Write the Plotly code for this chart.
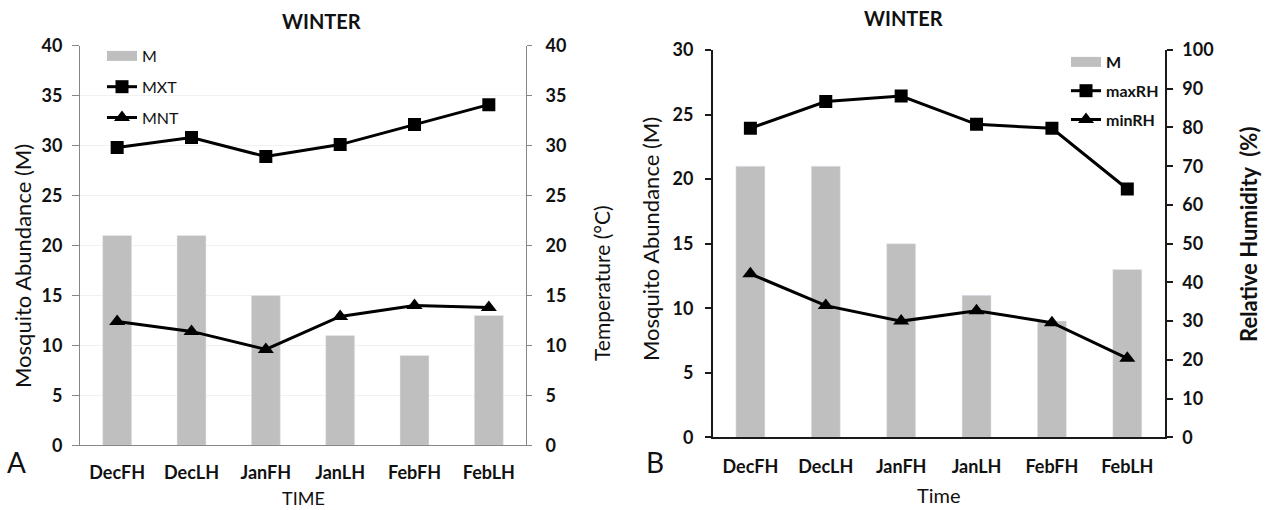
import plotly.graph_objects as go

# ---- data ----
categories = ["DecFH", "DecLH", "JanFH", "JanLH", "FebFH", "FebLH"]
mosquito_a = [21, 21, 15, 11, 9, 13]
max_temp = [29.8, 30.8, 28.9, 30.1, 32.1, 34.1]
min_temp = [12.4, 11.4, 9.6, 12.9, 14.0, 13.8]
mosquito_b = [21, 21, 15, 11, 9, 13]
max_rh = [79.8, 86.7, 88.1, 80.8, 79.8, 64.1]
min_rh = [42.2, 34.0, 30.0, 32.7, 29.6, 20.4]

W, H = 1268, 510
FONT = "Lato"
BAR = "#bfbfbf"


def px(x):
    return x / W


def py(y):
    return 1 - y / H


fig = go.Figure()

# ---------- panel A ----------
fig.add_trace(go.Bar(x=categories, y=mosquito_a, marker_color=BAR, width=0.39,
                     showlegend=False, xaxis="x", yaxis="y"))
fig.add_trace(go.Scatter(x=[None], y=[None], mode="lines", name="M",
                         line=dict(color=BAR, width=10), legend="legend",
                         legendgroup="a1", xaxis="x", yaxis="y"))
fig.add_trace(go.Scatter(x=categories, y=max_temp, mode="lines+markers", name="MXT",
                         line=dict(color="black", width=3),
                         marker=dict(symbol="square", size=13, color="black"),
                         legend="legend", legendgroup="a2", xaxis="x", yaxis="y2"))
fig.add_trace(go.Scatter(x=categories, y=min_temp, mode="lines+markers", name="MNT",
                         line=dict(color="black", width=3),
                         marker=dict(symbol="triangle-up", size=14, color="black"),
                         legend="legend", legendgroup="a3", xaxis="x", yaxis="y2"))

# ---------- panel B ----------
fig.add_trace(go.Bar(x=categories, y=mosquito_b, marker_color=BAR, width=0.385,
                     showlegend=False, xaxis="x2", yaxis="y3"))
fig.add_trace(go.Scatter(x=[None], y=[None], mode="lines", name="M",
                         line=dict(color=BAR, width=10), legend="legend2",
                         legendgroup="b1", xaxis="x2", yaxis="y3"))
fig.add_trace(go.Scatter(x=categories, y=max_rh, mode="lines+markers", name="maxRH",
                         line=dict(color="black", width=3),
                         marker=dict(symbol="square", size=13, color="black"),
                         legend="legend2", legendgroup="b2", xaxis="x2", yaxis="y4"))
fig.add_trace(go.Scatter(x=categories, y=min_rh, mode="lines+markers", name="minRH",
                         line=dict(color="black", width=3),
                         marker=dict(symbol="triangle-up", size=14, color="black"),
                         legend="legend2", legendgroup="b3", xaxis="x2", yaxis="y4"))

tickfont = dict(family=FONT, size=18, color="#111", weight="bold")
grayline = "#868686"
darkline = "#1a1a1a"

fig.update_layout(
    width=W, height=H,
    margin=dict(l=0, r=0, t=0, b=0, autoexpand=False),
    paper_bgcolor="white", plot_bgcolor="white",
    font=dict(family=FONT, color="#111"),
    barmode="overlay",
    xaxis=dict(domain=[px(80), px(526)], anchor="y", type="category", automargin=False,
               range=[-0.5, 5.5], showline=True, linecolor=grayline, linewidth=1,
               ticks="", tickfont=tickfont, ticklabelstandoff=11, showgrid=False),
    yaxis=dict(domain=[py(445.3), py(45.7)], anchor="x", range=[0, 40], dtick=5,
               automargin=False,
               showline=True, linecolor=grayline, linewidth=1, ticks="outside",
               ticklen=7, tickcolor=grayline, tickfont=tickfont, ticklabelstandoff=6,
               showgrid=True, gridcolor="#f1f1f1", zeroline=False),
    yaxis2=dict(overlaying="y", anchor="x", side="right", range=[0, 40], dtick=5,
                automargin=False,
                showline=True, linecolor=grayline, linewidth=1, ticks="outside",
                ticklen=5, tickcolor=grayline, tickfont=tickfont, ticklabelstandoff=10,
                showgrid=False, zeroline=False),
    xaxis2=dict(domain=[px(712.7), px(1165)], anchor="y3", type="category",
                automargin=False,
                range=[-0.5, 5.5], showline=True, linecolor=darkline, linewidth=1.5,
                ticks="", tickfont=tickfont, ticklabelstandoff=12, showgrid=False),
    yaxis3=dict(domain=[py(437.3), py(50)], anchor="x2", range=[0, 30], dtick=5,
                automargin=False,
                showline=True, linecolor=darkline, linewidth=1.5, ticks="outside",
                ticklen=6, tickcolor=darkline, tickwidth=1.5, tickfont=tickfont,
                ticklabelstandoff=8, showgrid=False, zeroline=False),
    yaxis4=dict(overlaying="y3", anchor="x2", side="right", range=[0, 100], dtick=10,
                automargin=False,
                showline=True, linecolor=darkline, linewidth=1.5, ticks="outside",
                ticklen=6, tickcolor=darkline, tickwidth=1.5, tickfont=tickfont,
                ticklabelstandoff=6, showgrid=False, zeroline=False),
    legend=dict(x=px(102), y=py(39), xanchor="left", yanchor="top",
                bgcolor="rgba(0,0,0,0)", font=dict(family=FONT, size=16, color="#111"),
                tracegroupgap=7, traceorder="grouped", itemsizing="trace"),
    legend2=dict(x=px(1066), y=py(45), xanchor="left", yanchor="top",
                 bgcolor="rgba(0,0,0,0)",
                 font=dict(family=FONT, size=16, color="#111", weight="bold"),
                 tracegroupgap=5, traceorder="grouped", itemsizing="trace"),
)

ann = []


def add_text(text, x, y, size, bold=False, angle=0, yanchor="middle"):
    ann.append(dict(text=text, x=px(x), y=py(y), xref="paper", yref="paper",
                    showarrow=False, textangle=angle, xanchor="center", yanchor=yanchor,
                    font=dict(family=FONT, size=size, color="#111",
                              weight="bold" if bold else "normal")))


add_text("WINTER", 322, 21, 20, bold=True)
add_text("WINTER", 903, 18, 20, bold=True)
add_text("Mosquito Abundance (M)", 22, 266, 22, angle=-90)
add_text("Temperature (°C)", 601, 283, 21, angle=-90)
add_text("TIME", 303, 511, 18, yanchor="bottom")
add_text("Mosquito Abundance (M)", 650, 239, 22, angle=-90)
add_text("Relative Humidity  (%)", 1249, 235, 22, bold=True, angle=-90)
add_text("Time", 939, 509, 20, yanchor="bottom")
add_text("A", 16, 462, 28)
add_text("B", 655, 462, 28)

fig.update_layout(annotations=ann)

fig.write_html("out.html")
